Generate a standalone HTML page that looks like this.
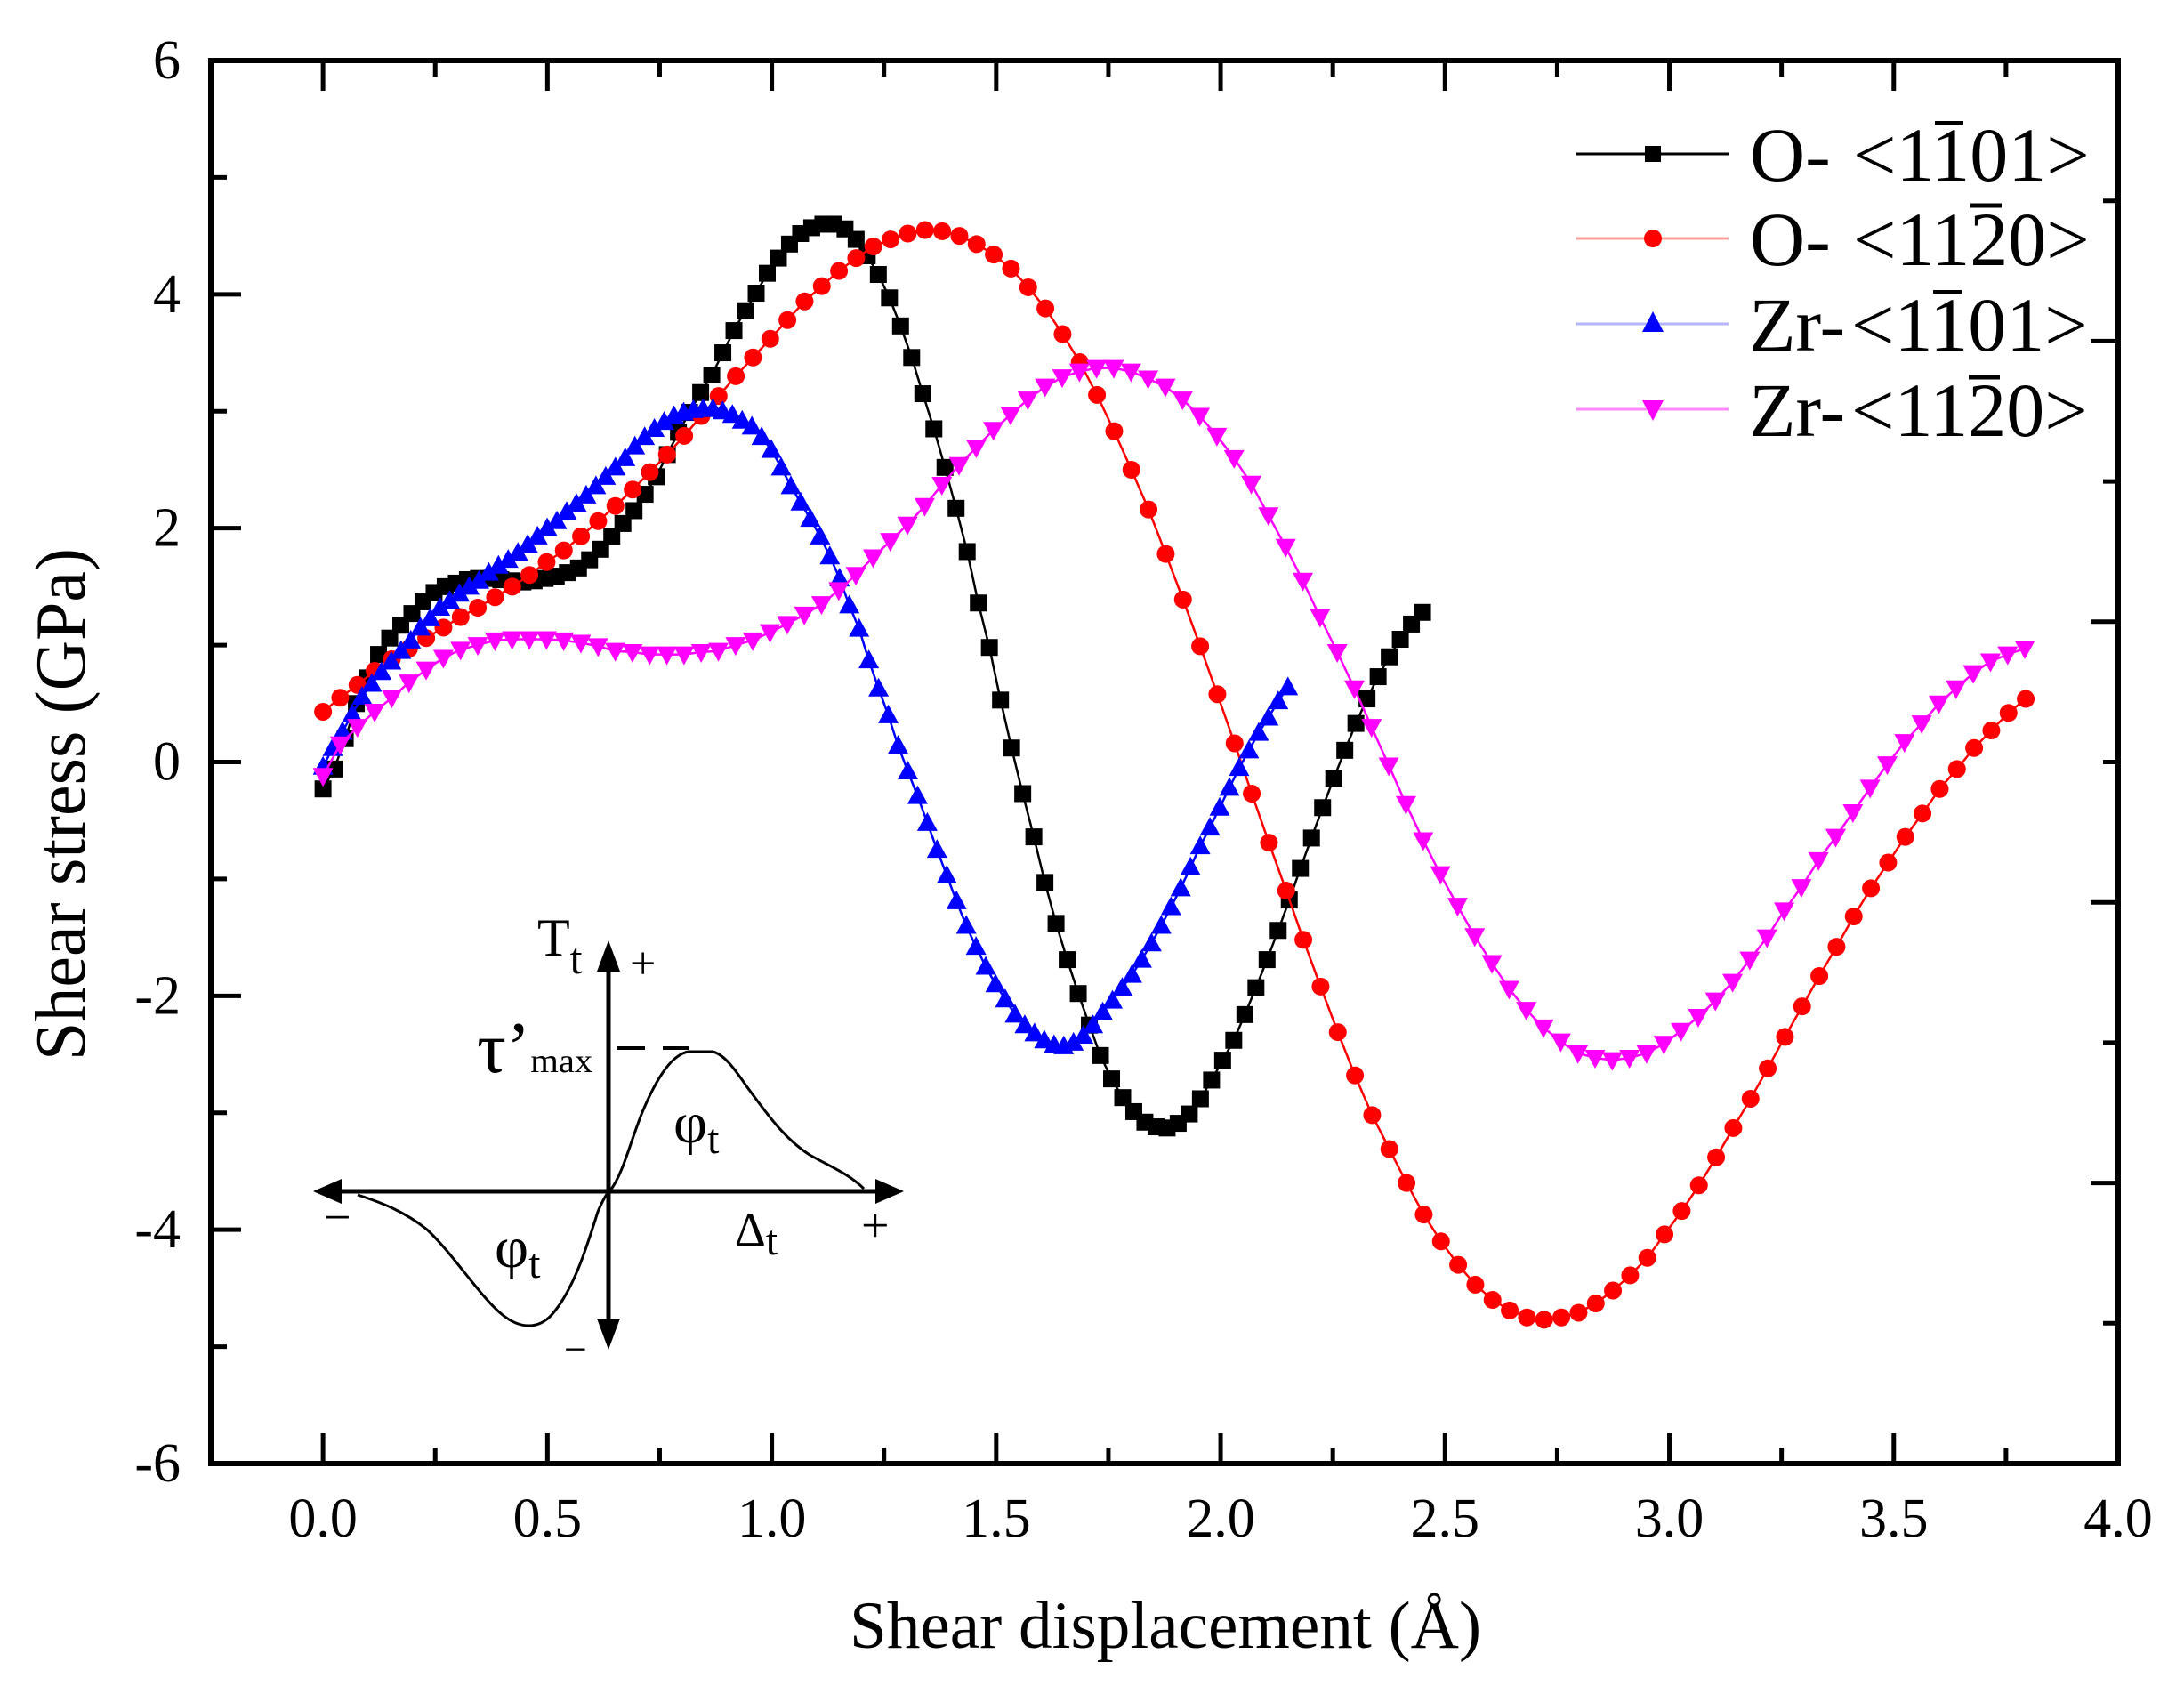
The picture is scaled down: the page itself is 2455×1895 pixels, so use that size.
<!DOCTYPE html>
<html><head><meta charset="utf-8"><title>Shear stress vs shear displacement</title>
<style>
html,body{margin:0;padding:0;background:#fff;}
svg{display:block;font-family:"Liberation Serif","DejaVu Serif",serif;}
</style></head>
<body>
<svg id="chart" width="2455" height="1895" viewBox="0 0 2455 1895" xmlns="http://www.w3.org/2000/svg">
  <rect x="0" y="0" width="2455" height="1895" fill="#fff"/>
  <g id="series-layer"></g>
  <g id="axes-layer"></g>
  <text x="1310" y="1852" font-size="75" text-anchor="middle" textLength="710" lengthAdjust="spacingAndGlyphs">Shear displacement (Å)</text>
  <text transform="translate(95,1192) rotate(-90)" x="0" y="0" font-size="80" textLength="576" lengthAdjust="spacingAndGlyphs">Shear stress (GPa)</text>

  <g>
    <g>
      <line x1="1772" y1="173" x2="1943" y2="173" stroke="#000" stroke-width="3"/>
      <rect x="1849" y="164" width="18" height="18" fill="#000"/>
      <text x="1967" y="203" font-size="86">O-</text>
      <text x="2083" y="203" font-size="86">&lt;1101&gt;</text>
      <line x1="2175" y1="138" x2="2207" y2="138" stroke="#000" stroke-width="4"/>
    </g>
    <g>
      <line x1="1772" y1="268" x2="1943" y2="268" stroke="#ff9d9d" stroke-width="3"/>
      <circle cx="1858" cy="268" r="10" fill="#ff0000"/>
      <text x="1967" y="298" font-size="86">O-</text>
      <text x="2083" y="298" font-size="86">&lt;1120&gt;</text>
      <line x1="2215" y1="231" x2="2250" y2="231" stroke="#000" stroke-width="5"/>
    </g>
    <g>
      <line x1="1772" y1="364" x2="1943" y2="364" stroke="#b4b4ff" stroke-width="3"/>
      <polygon points="1846,373 1870,373 1858,350" fill="#0000ff"/>
      <text x="1966" y="394" font-size="86">Zr-</text>
      <text x="2081" y="394" font-size="86">&lt;1101&gt;</text>
      <line x1="2173" y1="328" x2="2205" y2="328" stroke="#000" stroke-width="4"/>
    </g>
    <g>
      <line x1="1772" y1="460" x2="1943" y2="460" stroke="#ff88ff" stroke-width="3"/>
      <polygon points="1846,450 1870,450 1858,473" fill="#ff00ff"/>
      <text x="1966" y="490" font-size="86">Zr-</text>
      <text x="2081" y="490" font-size="86">&lt;1120&gt;</text>
      <line x1="2213" y1="424" x2="2248" y2="424" stroke="#000" stroke-width="5"/>
    </g>
  </g>

  <g>
    <line x1="380" y1="1339" x2="990" y2="1339" stroke="#000" stroke-width="5"/>
    <polygon points="352,1339 384,1325 384,1353" fill="#000"/>
    <polygon points="1016,1339 984,1325 984,1353" fill="#000"/>
    <line x1="684" y1="1085" x2="684" y2="1490" stroke="#000" stroke-width="5"/>
    <polygon points="684,1057 671,1092 697,1092" fill="#000"/>
    <polygon points="684,1517 671,1482 697,1482" fill="#000"/>
    <path d="M402,1343 C430,1352 455,1362 480,1382 C510,1410 540,1458 565,1478 C585,1494 605,1494 620,1478 C645,1450 660,1400 672,1362 C678,1348 683,1340 686,1338 C700,1320 708,1285 722,1250 C738,1212 755,1185 774,1182 L801,1182 C815,1185 828,1205 840,1222 C862,1252 882,1280 910,1298 C935,1312 955,1320 971,1336" fill="none" stroke="#000" stroke-width="3"/>
    <line x1="693" y1="1178" x2="725" y2="1178" stroke="#000" stroke-width="4"/>
    <line x1="745" y1="1178" x2="774" y2="1178" stroke="#000" stroke-width="4"/>
    <text x="604" y="1074" font-size="60">T<tspan font-size="50" dy="20">t</tspan></text>
    <text x="708" y="1100" font-size="52">+</text>
    <text x="536" y="1205" font-size="82">τ’<tspan font-size="38" dy="0" textLength="70" lengthAdjust="spacingAndGlyphs">max</tspan></text>
    <text x="757" y="1284" font-size="66">φ<tspan font-size="48" dy="12">t</tspan></text>
    <text x="556" y="1424" font-size="66">φ<tspan font-size="48" dy="12">t</tspan></text>
    <text x="826" y="1400" font-size="54">Δ<tspan font-size="48" dy="10">t</tspan></text>
    <text x="364" y="1386" font-size="54">−</text>
    <text x="968" y="1396" font-size="56">+</text>
    <text x="634" y="1532" font-size="46">−</text>
  </g>
</svg>
<script>
// ---- data ----
const xMin = -0.25, xMax = 4.0, yMin = -6, yMax = 6;
const xTickValues = [0.0, 0.5, 1.0, 1.5, 2.0, 2.5, 3.0, 3.5, 4.0];
const xTickLabels = ["0.0", "0.5", "1.0", "1.5", "2.0", "2.5", "3.0", "3.5", "4.0"];
const yTickValues = [-6, -4, -2, 0, 2, 4, 6];
const yTickLabels = ["-6", "-4", "-2", "0", "2", "4", "6"];

const blackXEnd = 2.45;
const blackY = [-0.23,-0.06,0.20,0.50,0.72,0.92,1.06,1.17,1.27,1.37,1.45,1.50,1.53,1.56,1.57,1.57,1.56,1.55,1.54,1.55,
1.57,1.59,1.62,1.66,1.73,1.82,1.93,2.04,2.15,2.29,2.44,2.63,2.82,2.99,3.16,3.31,3.50,3.69,3.86,4.01,
4.18,4.31,4.43,4.52,4.57,4.60,4.60,4.56,4.47,4.33,4.17,3.97,3.73,3.46,3.15,2.85,2.52,2.17,1.80,1.36,
0.98,0.53,0.12,-0.27,-0.64,-1.03,-1.38,-1.69,-1.98,-2.25,-2.51,-2.71,-2.87,-2.99,-3.08,-3.12,-3.13,-3.09,-3.01,-2.88,
-2.72,-2.55,-2.38,-2.16,-1.93,-1.69,-1.44,-1.18,-0.91,-0.65,-0.39,-0.14,0.10,0.33,0.54,0.73,0.90,1.05,1.18,1.28];

const redXEnd = 3.794;
const redY = [0.43,0.55,0.66,0.78,0.88,0.97,1.06,1.15,1.24,1.32,1.41,1.50,1.60,1.71,1.81,1.93,2.06,2.19,2.33,2.48,
2.63,2.79,2.96,3.13,3.30,3.46,3.62,3.78,3.94,4.07,4.20,4.31,4.41,4.47,4.52,4.55,4.54,4.50,4.43,4.34,
4.22,4.06,3.88,3.66,3.42,3.14,2.83,2.50,2.16,1.78,1.39,0.99,0.58,0.16,-0.27,-0.69,-1.10,-1.52,-1.92,-2.31,
-2.68,-3.02,-3.31,-3.60,-3.87,-4.10,-4.30,-4.47,-4.60,-4.69,-4.75,-4.77,-4.75,-4.71,-4.63,-4.52,-4.39,-4.24,-4.04,-3.84,
-3.62,-3.38,-3.13,-2.88,-2.62,-2.35,-2.09,-1.83,-1.58,-1.32,-1.08,-0.86,-0.64,-0.44,-0.23,-0.06,0.12,0.27,0.42,0.54];

const blueXEnd = 2.15;
const blueY = [-0.04,0.12,0.26,0.41,0.56,0.67,0.77,0.86,0.95,1.04,1.15,1.23,1.32,1.38,1.44,1.50,1.55,1.62,1.68,1.73,
1.79,1.86,1.93,2.00,2.06,2.14,2.21,2.28,2.36,2.44,2.52,2.60,2.70,2.78,2.85,2.91,2.96,2.99,3.01,3.02,
3.02,3.00,2.97,2.92,2.87,2.78,2.67,2.52,2.36,2.22,2.08,1.93,1.76,1.57,1.34,1.14,0.87,0.63,0.40,0.14,
-0.08,-0.29,-0.52,-0.75,-0.97,-1.19,-1.40,-1.58,-1.75,-1.90,-2.03,-2.16,-2.25,-2.32,-2.38,-2.42,-2.43,-2.40,-2.34,-2.25,
-2.14,-2.04,-1.93,-1.82,-1.69,-1.55,-1.40,-1.24,-1.08,-0.90,-0.72,-0.56,-0.39,-0.22,-0.05,0.10,0.25,0.38,0.52,0.64];

const magentaXEnd = 3.792;
const magentaY = [-0.12,0.15,0.30,0.43,0.55,0.68,0.79,0.89,0.96,1.00,1.04,1.05,1.05,1.05,1.04,1.02,0.99,0.95,0.94,0.92,
0.92,0.92,0.94,0.95,1.00,1.04,1.11,1.18,1.26,1.35,1.47,1.60,1.75,1.89,2.03,2.19,2.37,2.54,2.69,2.84,
2.97,3.10,3.21,3.29,3.34,3.37,3.37,3.34,3.28,3.21,3.10,2.96,2.79,2.60,2.38,2.11,1.84,1.55,1.24,0.94,
0.63,0.30,-0.03,-0.36,-0.67,-0.96,-1.23,-1.49,-1.72,-1.94,-2.12,-2.27,-2.39,-2.49,-2.53,-2.55,-2.53,-2.49,-2.41,-2.30,
-2.18,-2.04,-1.88,-1.69,-1.50,-1.27,-1.07,-0.84,-0.64,-0.43,-0.22,-0.02,0.17,0.33,0.50,0.63,0.76,0.86,0.92,0.97];

// ---- layout ----
const PL = 237, PR = 2381, PT = 68, PB = 1645;
function sx(v){ return PL + (v - xMin) / (xMax - xMin) * (PR - PL); }
function sy(v){ return PB - (v - yMin) / (yMax - yMin) * (PB - PT); }
const NS = "http://www.w3.org/2000/svg";
function mk(tag, attrs, parent){
  const e = document.createElementNS(NS, tag);
  for (const k in attrs) e.setAttribute(k, attrs[k]);
  parent.appendChild(e);
  return e;
}
const series = document.getElementById("series-layer");
const axes = document.getElementById("axes-layer");

function drawSeries(name, ys, xEnd, lineColor, markerColor, shape){
  const g = mk("g", {}, series);
  
  
  const n = ys.length;
  const pts = ys.map((v, i) => [sx(xEnd * i / (n - 1)), sy(v)]);
  const line = mk("polyline", {points: pts.map(p => p[0].toFixed(1) + "," + p[1].toFixed(1)).join(" "), fill: "none", stroke: lineColor, "stroke-width": 2.5}, g);
  
  
  pts.forEach((p, i) => {
    let m;
    if (shape === "square") {
      m = mk("rect", {x: p[0] - 9.5, y: p[1] - 9.5, width: 19, height: 19, fill: markerColor}, g);
    } else if (shape === "circle") {
      m = mk("circle", {cx: p[0], cy: p[1], r: 10, fill: markerColor}, g);
    } else if (shape === "up") {
      m = mk("polygon", {points: (p[0]-11.5)+","+(p[1]+9)+" "+(p[0]+11.5)+","+(p[1]+9)+" "+p[0]+","+(p[1]-12), fill: markerColor}, g);
    } else {
      m = mk("polygon", {points: (p[0]-11.5)+","+(p[1]-9)+" "+(p[0]+11.5)+","+(p[1]-9)+" "+p[0]+","+(p[1]+12), fill: markerColor}, g);
    }
    
    
  });
}
drawSeries("o-1-101", blackY, blackXEnd, "#000000", "#000000", "square");
drawSeries("o-11-20", redY, redXEnd, "#ff0000", "#ff0000", "circle");
drawSeries("zr-1-101", blueY, blueXEnd, "#0000ff", "#0000ff", "up");
drawSeries("zr-11-20", magentaY, magentaXEnd, "#ff00ff", "#ff00ff", "down");

// frame
const frame = mk("rect", {x: PL, y: PT, width: PR - PL, height: PB - PT, fill: "none", stroke: "#000", "stroke-width": 6}, axes);



// x ticks (bottom & top), majors + minors
for (let v = 0; v <= 4.0001; v += 0.25) {
  const major = Math.abs(v * 2 - Math.round(v * 2)) < 1e-6;
  const len = major ? 34 : 18;
  const X = sx(v);
  const tb = mk("line", {x1: X, y1: PB, x2: X, y2: PB - len, stroke: "#000", "stroke-width": 5}, axes);
  
  
  const tt = mk("line", {x1: X, y1: PT, x2: X, y2: PT + len, stroke: "#000", "stroke-width": 5}, axes);
  
  
}
xTickValues.forEach((v, i) => {
  const t = mk("text", {x: sx(v), y: 1727, "font-size": 62, "text-anchor": "middle"}, axes);
  t.textContent = xTickLabels[i];
  
  
});
// y ticks left
for (let v = yMin; v <= yMax; v += 1) {
  const major = v % 2 === 0;
  const len = major ? 34 : 18;
  const Y = sy(v);
  const tl = mk("line", {x1: PL, y1: Y, x2: PL + len, y2: Y, stroke: "#000", "stroke-width": 5}, axes);
  
  
}
yTickValues.forEach((v, i) => {
  const t = mk("text", {x: 203, y: sy(v) + 20, "font-size": 62, "text-anchor": "end"}, axes);
  t.textContent = yTickLabels[i];
  
  
});
// right-side ticks (10 even intervals)
for (let k = 0; k <= 10; k++) {
  const Y = PT + k * (PB - PT) / 10;
  const len = (k % 2 === 0) ? 31 : 17;
  const tr = mk("line", {x1: PR, y1: Y, x2: PR - len, y2: Y, stroke: "#000", "stroke-width": 5}, axes);
  
  
}
</script>
</body></html>
